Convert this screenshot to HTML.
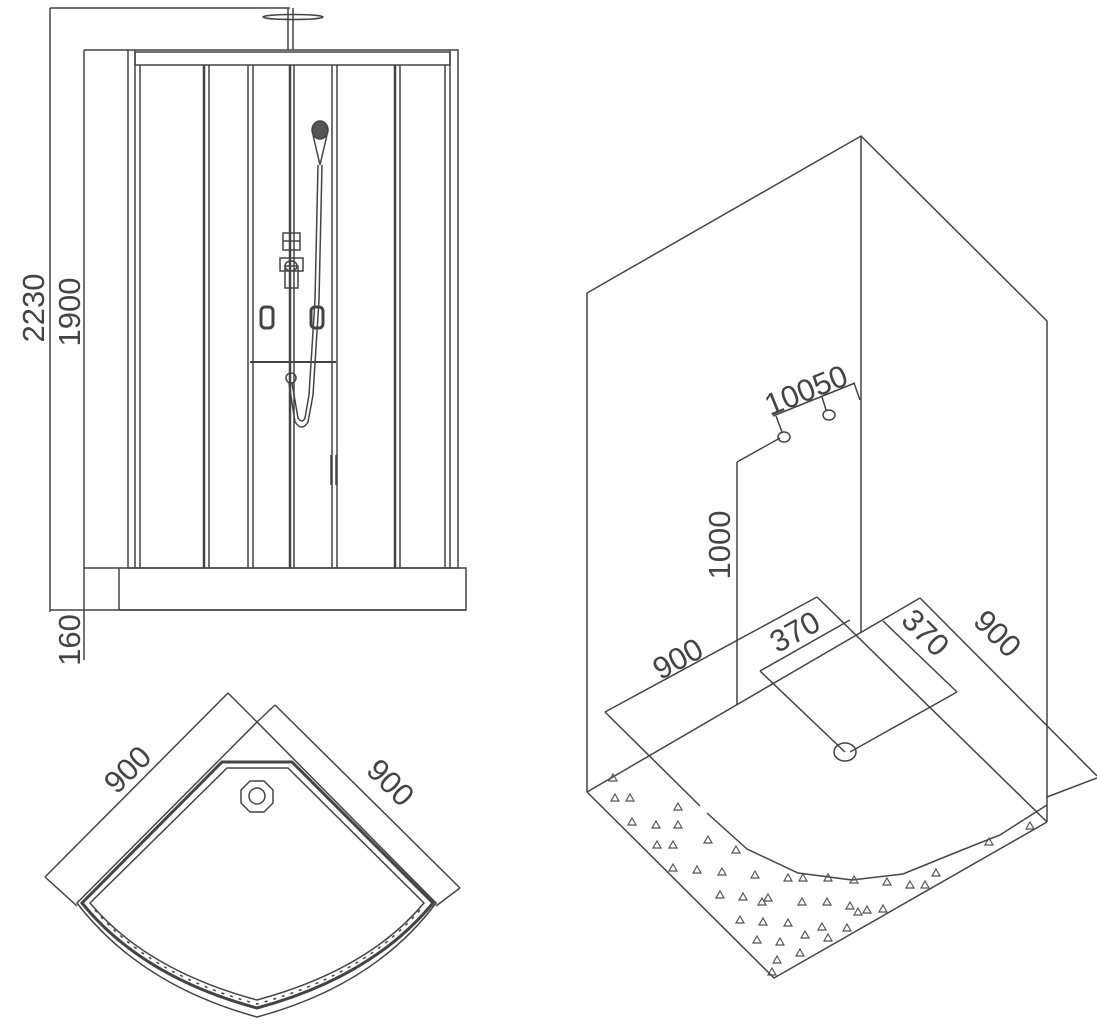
<!DOCTYPE html>
<html><head><meta charset="utf-8"><style>
html,body{margin:0;padding:0;background:#fff}
svg{display:block}
text{font-family:"Liberation Sans",sans-serif;fill:#444;font-size:31px}
</style></head><body>
<svg width="1097" height="1024" viewBox="0 0 1097 1024" xmlns="http://www.w3.org/2000/svg">
<defs>
<polygon id="t" points="0,-4 4,3 -4,3" fill="none" stroke="#555" stroke-width="1.2"/>
</defs>
<g stroke="#444" stroke-width="1.5" fill="none">
<!-- FRONT VIEW -->
<line x1="50" y1="8" x2="50" y2="612"/>
<line x1="50" y1="8" x2="290" y2="8"/>
<line x1="84" y1="50" x2="84" y2="660"/>
<line x1="84" y1="50" x2="128" y2="50"/>
<line x1="84" y1="568" x2="119" y2="568"/>
<line x1="50" y1="610" x2="466" y2="610"/>
<line x1="288" y1="8" x2="288" y2="50"/>
<line x1="293" y1="8" x2="293" y2="50"/>
<ellipse cx="293" cy="17" rx="30" ry="2.5"/>
<rect x="128" y="50" width="330" height="518"/>
<line x1="135" y1="50" x2="135" y2="568"/>
<line x1="450" y1="50" x2="450" y2="568"/>
<rect x="135" y="52" width="315" height="13"/>
<line x1="140" y1="65" x2="140" y2="568"/>
<line x1="445" y1="65" x2="445" y2="568"/>
<line x1="204" y1="65" x2="204" y2="568" stroke-width="2.5"/>
<line x1="209" y1="65" x2="209" y2="568"/>
<line x1="248" y1="65" x2="248" y2="568"/>
<line x1="253" y1="65" x2="253" y2="568"/>
<line x1="290" y1="65" x2="290" y2="568" stroke-width="2.5"/>
<line x1="294" y1="65" x2="294" y2="568"/>
<line x1="332" y1="65" x2="332" y2="568"/>
<line x1="337" y1="65" x2="337" y2="568"/>
<line x1="395" y1="65" x2="395" y2="568" stroke-width="2.5"/>
<line x1="400" y1="65" x2="400" y2="568"/>
<rect x="119" y="568" width="347" height="42"/>
<line x1="331" y1="455" x2="331" y2="485"/>
<line x1="336" y1="455" x2="336" y2="485"/>
<!-- shower head & hose -->
<ellipse cx="320" cy="130" rx="8" ry="9" fill="#555"/>
<path d="M313,135 L320,165 L327,135"/>
<path d="M318,165 L315,300 L309,395 L305,418 Q302,424 298,418 L292,383"/>
<path d="M322,165 L319,300 L313,395 L308,422 Q302,432 295,422 L289,383"/>
<line x1="250" y1="362" x2="336" y2="362" stroke-width="2"/>
<ellipse cx="291" cy="378" rx="5" ry="5"/>
<rect x="283" y="233" width="17" height="17"/>
<line x1="283" y1="241" x2="300" y2="241"/>
<rect x="280" y="258" width="23" height="13"/>
<rect x="285" y="266" width="13" height="22"/>
<ellipse cx="291" cy="266" rx="6" ry="5"/>
<rect x="261" y="307" width="12" height="21" rx="4" stroke-width="3"/>
<rect x="311" y="307" width="12" height="21" rx="4" stroke-width="3"/>
</g>
<text transform="translate(44,308) rotate(-90)" text-anchor="middle">2230</text>
<text transform="translate(80,312) rotate(-90)" text-anchor="middle">1900</text>
<text transform="translate(80,640) rotate(-90)" text-anchor="middle">160</text>

<!-- TOP VIEW -->
<g stroke="#444" stroke-width="1.5" fill="none">
<line x1="45" y1="877" x2="228" y2="693"/>
<line x1="228" y1="693" x2="257" y2="722"/>
<line x1="45" y1="877" x2="77" y2="906"/>
<line x1="275" y1="705" x2="460" y2="888"/>
<line x1="275" y1="705" x2="257" y2="722"/>
<line x1="460" y1="888" x2="436" y2="906"/>
<path d="M257,722 L77,903 Q140,985 257,1017 Q375,985 436,903 Z"/>
<path d="M222,762 L292,762 L433,903 Q372,977 257,1008 Q142,977 82,903 Z" stroke-width="3"/>
<path d="M227,768 L288,768 L424,903 Q368,970 257,1000 Q146,970 90,903 Z"/>
<path d="M95,910 Q150,975 257,1004 Q364,975 420,910" stroke-dasharray="3 6"/>
<polygon points="250,781 264,781 273,790 273,803 264,812 250,812 241,803 241,790"/>
<circle cx="257" cy="796" r="8"/>
</g>
<text transform="translate(135,777) rotate(-45)" text-anchor="middle">900</text>
<text transform="translate(383,790) rotate(45)" text-anchor="middle">900</text>

<!-- ISO VIEW -->
<g stroke="#444" stroke-width="1.5" fill="none">
<path d="M587,792 L587,293 L861,136 L1047,321 L1047,822"/>
<line x1="861" y1="136" x2="861" y2="633"/>
<path d="M587,792 L774,978 L1047,822"/>
<line x1="587" y1="792" x2="920" y2="598"/>
<line x1="817" y1="597" x2="1047" y2="822"/>
<path d="M707,813 L747,849 L798,873 L852,880 L903,874 L957,852 L1000,835 L1047,805"/>
<!-- dims -->
<line x1="605" y1="712" x2="817" y2="597"/>
<line x1="605" y1="712" x2="700" y2="806"/>
<line x1="760" y1="671" x2="850" y2="620"/>
<line x1="760" y1="671" x2="845" y2="752"/>
<line x1="883" y1="621" x2="957" y2="692"/>
<line x1="957" y1="692" x2="850" y2="752"/>
<line x1="920" y1="598" x2="1097" y2="776"/>
<line x1="1097" y1="778" x2="1047" y2="797"/>
<ellipse cx="845" cy="752" rx="11" ry="9"/>
<line x1="737" y1="462" x2="737" y2="705"/>
<line x1="737" y1="462" x2="780" y2="438"/>
<ellipse cx="784" cy="437" rx="6" ry="5"/>
<ellipse cx="829" cy="415" rx="6" ry="5"/>
<line x1="773" y1="416" x2="855" y2="383"/>
<line x1="776" y1="416" x2="782" y2="432"/>
<line x1="822" y1="397" x2="826" y2="410"/>
<line x1="854" y1="383" x2="860" y2="400"/>
</g>
<g>
<use href="#t" x="613" y="778"/><use href="#t" x="615" y="798"/><use href="#t" x="630" y="798"/>
<use href="#t" x="678" y="807"/><use href="#t" x="632" y="822"/><use href="#t" x="656" y="825"/>
<use href="#t" x="678" y="825"/><use href="#t" x="708" y="840"/><use href="#t" x="657" y="845"/>
<use href="#t" x="673" y="845"/><use href="#t" x="736" y="850"/><use href="#t" x="673" y="868"/>
<use href="#t" x="697" y="870"/><use href="#t" x="722" y="872"/><use href="#t" x="755" y="875"/>
<use href="#t" x="788" y="878"/><use href="#t" x="803" y="878"/><use href="#t" x="828" y="878"/>
<use href="#t" x="854" y="880"/><use href="#t" x="887" y="882"/><use href="#t" x="910" y="885"/>
<use href="#t" x="925" y="885"/><use href="#t" x="936" y="873"/><use href="#t" x="989" y="842"/>
<use href="#t" x="720" y="895"/><use href="#t" x="743" y="897"/><use href="#t" x="762" y="902"/>
<use href="#t" x="768" y="898"/><use href="#t" x="802" y="902"/><use href="#t" x="827" y="902"/>
<use href="#t" x="850" y="906"/><use href="#t" x="858" y="912"/><use href="#t" x="867" y="910"/>
<use href="#t" x="883" y="909"/><use href="#t" x="740" y="920"/><use href="#t" x="763" y="922"/>
<use href="#t" x="788" y="923"/><use href="#t" x="822" y="927"/><use href="#t" x="847" y="928"/>
<use href="#t" x="757" y="940"/><use href="#t" x="780" y="942"/><use href="#t" x="805" y="935"/>
<use href="#t" x="828" y="938"/><use href="#t" x="777" y="960"/><use href="#t" x="800" y="953"/>
<use href="#t" x="772" y="972"/><use href="#t" x="1030" y="826"/>
</g>
<text transform="translate(730,545) rotate(-90)" text-anchor="middle">1000</text>
<text transform="translate(810,400) rotate(-22)" text-anchor="middle">10050</text>
<text transform="translate(683,668) rotate(-29)" text-anchor="middle">900</text>
<text transform="translate(800,641) rotate(-29)" text-anchor="middle">370</text>
<text transform="translate(918,640) rotate(45)" text-anchor="middle">370</text>
<text transform="translate(990,641) rotate(45)" text-anchor="middle">900</text>
</svg>
</body></html>
